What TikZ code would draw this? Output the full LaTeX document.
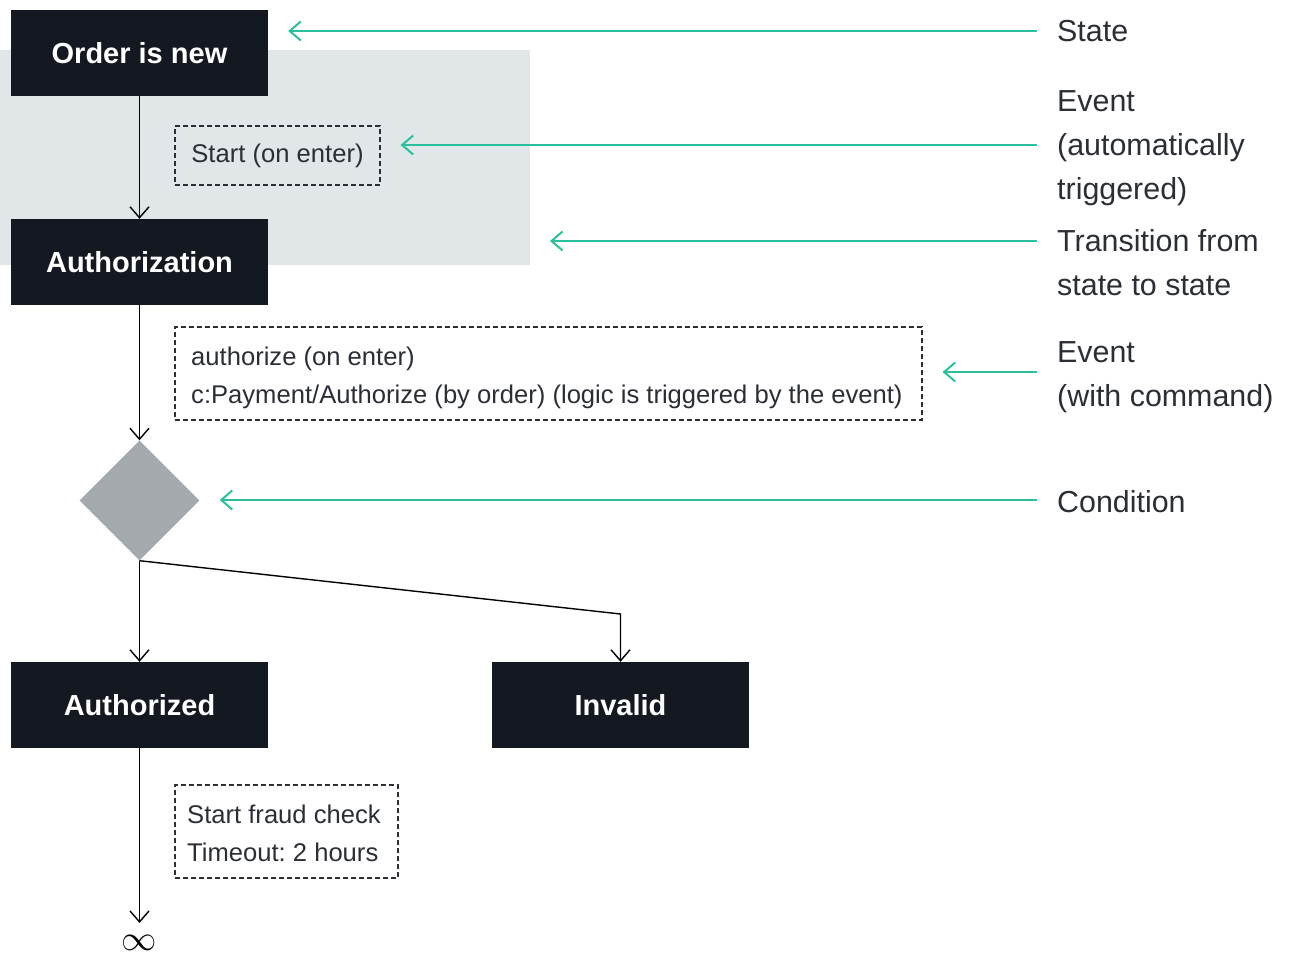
\documentclass[tikz,border=0pt]{standalone}
\usepackage{fontspec}
\setmainfont{Liberation Sans}
\usetikzlibrary{arrows.meta,shapes.geometric}
\definecolor{dark}{HTML}{141821}
\definecolor{bggray}{HTML}{E1E6E9}
\definecolor{tealc}{HTML}{2BBF9E}
\definecolor{diag}{HTML}{A3A9AC}
\definecolor{txt}{HTML}{2A2E35}
\frenchspacing
\begin{document}
\begin{tikzpicture}[x=1pt,y=-1pt,
  statebox/.style={fill=dark, text=white, minimum width=257pt, minimum height=86pt, inner sep=0pt, font=\fontsize{29}{34}\selectfont\bfseries},
  evbox/.style={draw=txt, dash pattern=on 5pt off 3pt, line width=1.2pt, text=txt, inner sep=0pt, font=\fontsize{25.6}{38}\selectfont},
  evtext/.style={text=txt, inner sep=0pt, anchor=west, align=left, font=\fontsize{25.6}{38}\selectfont},
  flow/.style={line width=1.4pt, -{Straight Barb[length=11pt,width=19pt,line width=1.4pt]}},
  hint/.style={draw=tealc, line width=2pt, -{Straight Barb[length=11pt,width=19pt,line width=2pt]}, shorten >=20pt},
  lab/.style={anchor=west, align=left, text=txt, inner sep=0pt, font=\fontsize{30.4}{44}\selectfont}
]
\useasboundingbox (0,0) rectangle (1293,953);
\fill[bggray] (0,50) rectangle (530,265);
\coordinate (bgcorner) at (530,241);

% states
\node[statebox] (order) at (139.5,53) {Order is new};
\node[statebox] (auth) at (139.5,262) {Authorization};
\node[statebox] (authd) at (139.5,705) {Authorized};
\node[statebox] (inv) at (620.5,705) {Invalid};

% condition
\node[diamond, fill=diag, minimum width=120pt, minimum height=120pt, inner sep=0pt, aspect=1] (cond) at (139.5,500.5) {};

% events
\node[evbox, minimum width=205pt, minimum height=59pt] (ev1) at (277.5,155.5) {Start (on enter)};
\node[evbox, minimum width=747pt, minimum height=93pt] (ev2) at (548.5,373.5) {};
\node[evtext] (ev2t) at (191,378) {authorize (on enter)\\c:Payment/Authorize (by order) (logic is triggered by the event)};
\node[evbox, minimum width=223pt, minimum height=93pt] (ev3) at (286.5,831.5) {};
\node[evtext] (ev3t) at (187,833) {Start fraud check\\Timeout: 2 hours};

\node[inner sep=0pt, font=\huge, scale=1.7] (inf) at (139.5,943) {$\infty$};
\coordinate (infend) at (139.5,923);

% flow connectors
\draw[flow] (order) -- (auth);
\draw[flow] (auth) -- (cond.north);
\draw[flow] (cond.south) -- (authd);
\coordinate (bend) at (620.5,614);
\draw[flow] (cond.south) -- (bend) -- (inv);
\draw[flow] (authd) -- (infend);

% legend labels
\node[lab] (lstate) at (1057,31) {State};
\node[lab] (lev) at (1057,148) {Event\\(automatically\\triggered)};
\node[lab] (ltr) at (1057,263) {Transition from\\state to state};
\node[lab] (lcmd) at (1057,377) {Event\\(with command)};
\node[lab] (lcond) at (1057,502) {Condition};

\coordinate (h1) at (1037,31);
\coordinate (h2) at (1037,145);
\coordinate (h3) at (1037,241);
\coordinate (h4) at (1037,372);
\coordinate (h5) at (1037,500);
\draw[hint] (h1) -- (h1 -| order.east);
\draw[hint] (h2) -- (h2 -| ev1.east);
\draw[hint] (h3) -- (h3 -| bgcorner);
\draw[hint] (h4) -- (h4 -| ev2.east);
\draw[hint] (h5) -- (h5 -| cond.east);
\end{tikzpicture}
\end{document}
